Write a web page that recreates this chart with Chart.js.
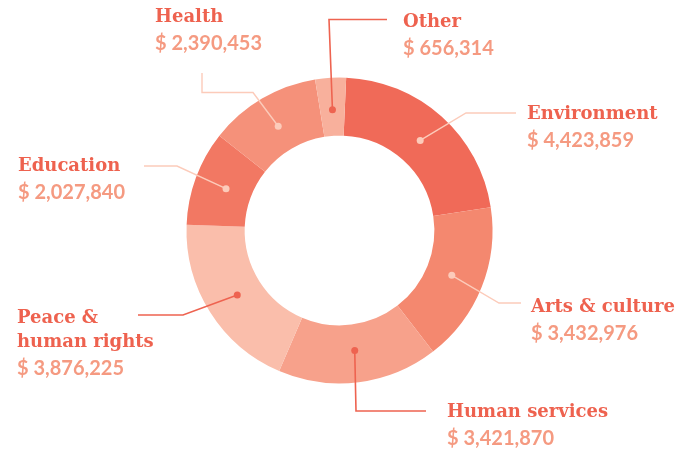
<!DOCTYPE html>
<html>
<head>
<meta charset="utf-8">
<script src="https://cdn.jsdelivr.net/npm/chart.js@4"></script>
<style>
  html, body { margin: 0; padding: 0; background: #fff; }
  #wrap { width: 684px; height: 450px; position: relative; }
</style>
</head>
<body>
<div id="wrap"><canvas id="grafico" width="684" height="450"></canvas></div>
<script>
// dados
const categorias = ['Environment', 'Arts & culture', 'Human services', 'Peace & human rights', 'Education', 'Health', 'Other']
const valores = [4423859, 3432976, 3421870, 3876225, 2027840, 2390453, 656314]
const cores = ['#F06A58', '#F4886F', '#F7A18B', '#FABEAB', '#F27863', '#F5917A', '#F8B09C']

// linhas do rotulo (quebra manual)
const linhasNome = [['Environment'], ['Arts & culture'], ['Human services'], ['Peace &', 'human rights'], ['Education'], ['Health'], ['Other']]

// posicao dos rotulos e das linhas guia (layout)
const layoutRotulos = [
    { x: 527, y: 119, cotovelo: [466, 113], fim: [516, 113], escura: false },
    { x: 531, y: 312, cotovelo: [499, 303], fim: [521, 303], escura: false },
    { x: 447, y: 417, cotovelo: [356, 411], fim: [426, 411], escura: true },
    { x: 17, y: 323, cotovelo: [183, 315], fim: [138, 315], escura: true },
    { x: 18, y: 171, cotovelo: [177, 166], fim: [144, 166], escura: false },
    { x: 155, y: 22, cotovelo: [253, 92.5], fim: [202, 92.5], extra: [202, 73], escura: false },
    { x: 403, y: 27, cotovelo: [329, 19.5], fim: [387, 19.5], escura: true }
]

const formatar = (v) => '$ ' + v.toLocaleString('en-US')

const pluginRotulos = {
    id: 'rotulos',
    afterDraw(chart) {
        const ctx = chart.ctx
        const arcos = chart.getDatasetMeta(0).data
        ctx.save()
        arcos.forEach((arco, i) => {
            const p = arco.getProps(['x', 'y', 'startAngle', 'endAngle', 'innerRadius', 'outerRadius'])
            const ang = (p.startAngle + p.endAngle) / 2
            const r = (p.innerRadius + p.outerRadius) / 2 - 3
            const px = p.x + Math.cos(ang) * r
            const py = p.y + Math.sin(ang) * r
            const lay = layoutRotulos[i]
            const corLinha = lay.escura ? '#EE6350' : '#FCCBBA'

            ctx.strokeStyle = corLinha
            ctx.lineWidth = lay.escura ? 1.6 : 1.4
            ctx.beginPath()
            ctx.moveTo(px, py)
            ctx.lineTo(lay.cotovelo[0], lay.cotovelo[1])
            ctx.lineTo(lay.fim[0], lay.fim[1])
            if (lay.extra) ctx.lineTo(lay.extra[0], lay.extra[1])
            ctx.stroke()

            ctx.fillStyle = corLinha
            ctx.beginPath()
            ctx.arc(px, py, 3.5, 0, Math.PI * 2)
            ctx.fill()

            // nome
            ctx.textAlign = 'left'
            ctx.textBaseline = 'alphabetic'
            ctx.fillStyle = '#EE624F'
            ctx.font = 'bold 18px "DejaVu Serif"'
            let y = lay.y
            linhasNome[i].forEach((l) => {
                ctx.fillText(l, lay.x, y)
                y += 24
            })
            // valor
            ctx.fillStyle = '#F59A81'
            ctx.font = 'bold 20px Lato'
            ctx.fillText(formatar(valores[i]), lay.x, y + 4)
        })
        ctx.restore()
    }
}

const ctx = document.getElementById('grafico').getContext('2d')

const meuGrafico = new Chart(ctx, {
    type: 'doughnut',
    data: {
        labels: categorias,
        datasets: [{
            data: valores,
            backgroundColor: cores,
            borderWidth: 0,
            hoverOffset: 0
        }]
    },
    options: {
        responsive: false,
        animation: false,
        rotation: 2.5,
        cutout: '62%',
        layout: {
            padding: { left: 186.5, right: 191.5, top: 77.5, bottom: 66.5 }
        },
        plugins: {
            legend: { display: false },
            tooltip: { enabled: false },
            title: { display: false }
        }
    },
    plugins: [pluginRotulos]
})
</script>
</body>
</html>
